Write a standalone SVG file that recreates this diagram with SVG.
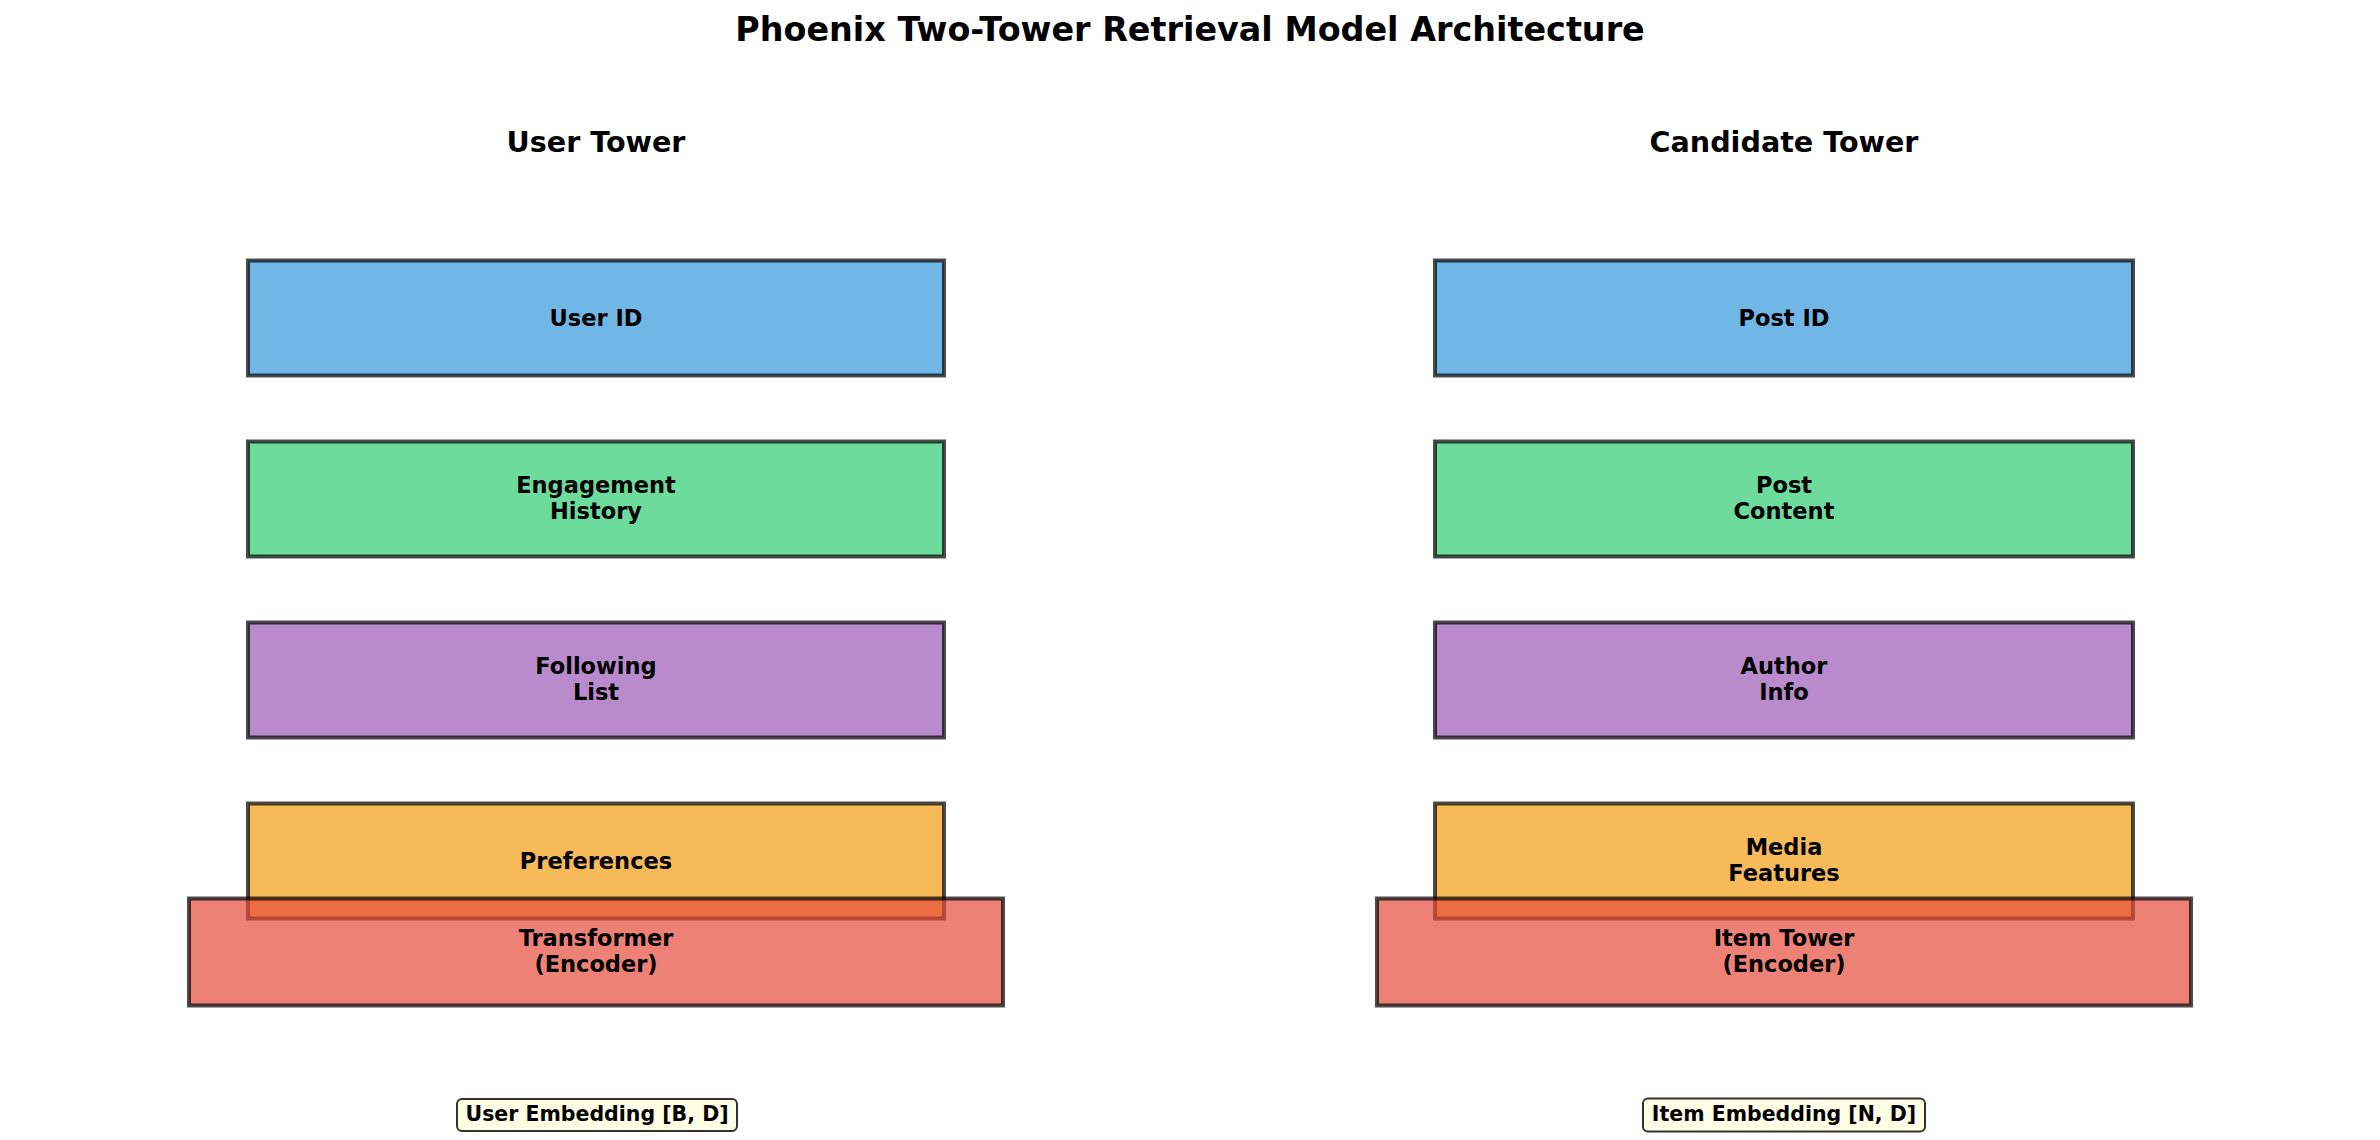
<svg xmlns="http://www.w3.org/2000/svg" width="2380" height="1140" viewBox="0 0 2380 1140">
<style>
text{font-family:"DejaVu Sans","Liberation Sans",sans-serif;font-weight:bold;fill:#000;text-anchor:middle}
.title{font-size:33.4px}
.head{font-size:28.6px}
.lbl{font-size:22.5px}
.emb{font-size:20.5px}
.box{stroke:#000;stroke-opacity:.7;stroke-width:4;fill-opacity:.7}
.blue{fill:#3498db}
.green{fill:#2ecc71}
.purple{fill:#9b59b6}
.orange{fill:#f39c12}
.red{fill:#e74c3c}
.tag{fill:#ffffe0;fill-opacity:.8;stroke:#000;stroke-opacity:.8;stroke-width:2}
</style>
<rect width="2380" height="1140" fill="#fff"/>
<text class="title" x="1190" y="41">Phoenix Two-Tower Retrieval Model Architecture</text>
<text class="head" x="596" y="152">User Tower</text>
<text class="head" x="1784" y="152">Candidate Tower</text>

<g id="user-id"><rect class="box blue" x="248" y="260.5" width="696" height="115"/><text class="lbl" x="596" y="326">User ID</text></g>
<g id="engagement-history"><rect class="box green" x="248" y="441.5" width="696" height="115"/><text class="lbl" x="596" y="493">Engagement</text><text class="lbl" x="596" y="519">History</text></g>
<g id="following-list"><rect class="box purple" x="248" y="622.5" width="696" height="115"/><text class="lbl" x="596" y="674">Following</text><text class="lbl" x="596" y="700">List</text></g>
<g id="preferences"><rect class="box orange" x="248" y="803.5" width="696" height="115"/><text class="lbl" x="596" y="869">Preferences</text></g>
<g id="transformer-encoder"><rect class="box red" x="189" y="898.5" width="814" height="107"/><text class="lbl" x="596" y="945.5">Transformer</text><text class="lbl" x="596" y="971.5">(Encoder)</text></g>
<g id="user-embedding"><rect class="tag" x="457" y="1099" width="280" height="32" rx="5"/><text class="emb" x="597" y="1120.5">User Embedding [B, D]</text></g>

<g id="post-id"><rect class="box blue" x="1435" y="260.5" width="698" height="115"/><text class="lbl" x="1784" y="326">Post ID</text></g>
<g id="post-content"><rect class="box green" x="1435" y="441.5" width="698" height="115"/><text class="lbl" x="1784" y="493">Post</text><text class="lbl" x="1784" y="519">Content</text></g>
<g id="author-info"><rect class="box purple" x="1435" y="622.5" width="698" height="115"/><text class="lbl" x="1784" y="674">Author</text><text class="lbl" x="1784" y="700">Info</text></g>
<g id="media-features"><rect class="box orange" x="1435" y="803.5" width="698" height="115"/><text class="lbl" x="1784" y="855">Media</text><text class="lbl" x="1784" y="881">Features</text></g>
<g id="item-tower-encoder"><rect class="box red" x="1377" y="898.5" width="814" height="107"/><text class="lbl" x="1784" y="945.5">Item Tower</text><text class="lbl" x="1784" y="971.5">(Encoder)</text></g>
<g id="item-embedding"><rect class="tag" x="1643" y="1098.5" width="282" height="33" rx="5"/><text class="emb" x="1784" y="1121">Item Embedding [N, D]</text></g>

<g id="connectors"></g>
</svg>
